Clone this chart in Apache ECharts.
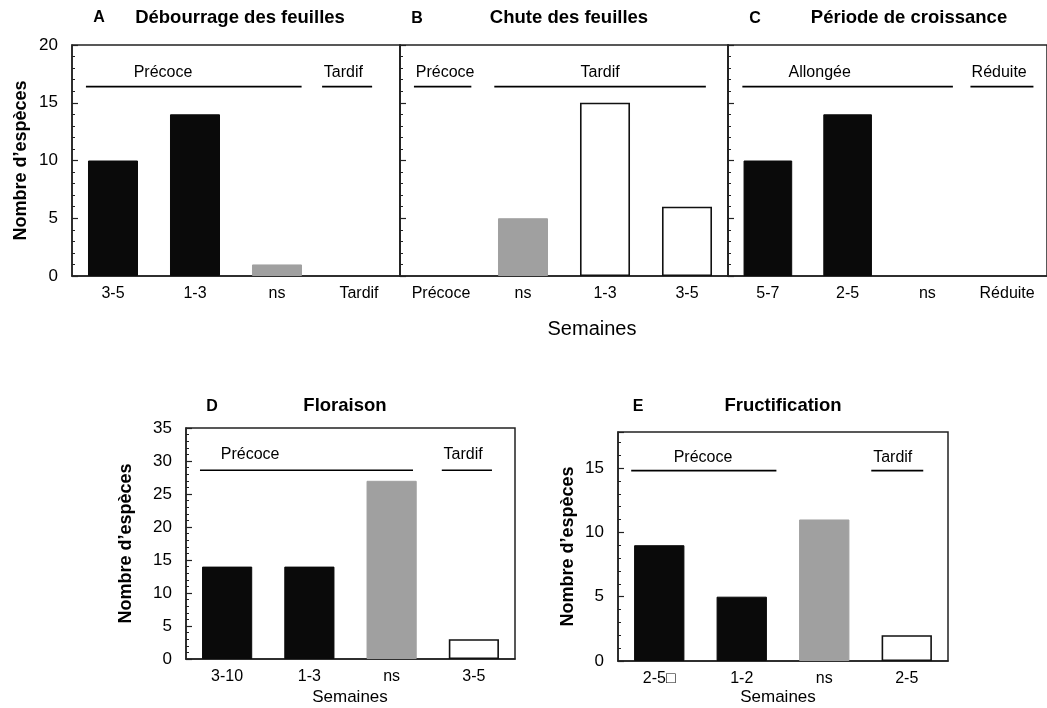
<!DOCTYPE html>
<html><head><meta charset="utf-8">
<script src="https://cdn.jsdelivr.net/npm/echarts@6/dist/echarts.min.js"></script>
<style>html,body{margin:0;padding:0;background:#fff}#c{width:1047px;height:708px}</style>
</head><body><div id="c"></div>
<script>
// ---- Data ----
const catsA = ['3-5', '1-3', 'ns', 'Tardif'];
const valsA = [10, 14, 1, 0];
const groupA = ['early', 'early', 'ns', 'late'];

const catsB = ['Précoce', 'ns', '1-3', '3-5'];
const valsB = [0, 5, 15, 6];
const groupB = ['early', 'ns', 'late', 'late'];

const catsC = ['5-7', '2-5', 'ns', 'Réduite'];
const valsC = [10, 14, 0, 0];
const groupC = ['early', 'early', 'ns', 'late'];

const catsD = ['3-10', '1-3', 'ns', '3-5'];
const valsD = [14, 14, 27, 3];
const groupD = ['early', 'early', 'ns', 'late'];

const catsE = ['2-5□', '1-2', 'ns', '2-5'];
const valsE = [9, 5, 11, 2];
const groupE = ['early', 'early', 'ns', 'late'];

const titles = ['Débourrage des feuilles', 'Chute des feuilles', 'Période de croissance', 'Floraison', 'Fructification'];
const letters = ['A', 'B', 'C', 'D', 'E'];
const yMax = [20, 20, 20, 35, 17.8];

// bracket annotations: [label, from, to, y, labelX, labelY] (category units / value units)
const bracketsA = [['Précoce', 0.17, 2.80, 16.4, 1.11, 17.6], ['Tardif', 3.05, 3.66, 16.4, 3.31, 17.6]];
const bracketsB = [['Précoce', 0.17, 0.87, 16.4, 0.55, 17.6], ['Tardif', 1.15, 3.73, 16.4, 2.44, 17.6]];
const bracketsC = [['Allongée', 0.18, 2.82, 16.4, 1.15, 17.6], ['Réduite', 3.04, 3.83, 16.4, 3.40, 17.6]];
const bracketsD = [['Précoce', 0.17, 2.76, 28.6, 0.78, 30.9], ['Tardif', 3.11, 3.72, 28.6, 3.37, 30.9]];
const bracketsE = [['Précoce', 0.16, 1.92, 14.8, 1.03, 15.8], ['Tardif', 3.07, 3.70, 14.8, 3.33, 15.8]];

// ---- Layout / style ----
const FONT = 'Liberation Sans';
const INK = '#000';
const grids = [
  {left: 72, top: 45, width: 328, height: 231},
  {left: 400, top: 45, width: 328, height: 231},
  {left: 728, top: 45, width: 328, height: 231},
  {left: 186, top: 428, width: 329, height: 231},
  {left: 618, top: 432, width: 330, height: 229}
];
const showYLabels = [true, false, false, true, true];
const yNameGap = [42, 0, 0, 51, 41];
const styleFor = {
  early: {color: '#0a0a0a', borderColor: '#0a0a0a', borderWidth: 1},
  ns: {color: '#a0a0a0', borderColor: '#a0a0a0', borderWidth: 1},
  late: {color: '#ffffff', borderColor: '#111', borderWidth: 1.6}
};

const panels = [
  [catsA, valsA, groupA, bracketsA],
  [catsB, valsB, groupB, bracketsB],
  [catsC, valsC, groupC, bracketsC],
  [catsD, valsD, groupD, bracketsD],
  [catsE, valsE, groupE, bracketsE]
];

const option = {
  animation: false,
  backgroundColor: '#fff',
  textStyle: {fontFamily: FONT},
  grid: grids.map(g => Object.assign({show: true, borderColor: '#222', borderWidth: 1.5, backgroundColor: 'transparent'}, g)),
  xAxis: [], yAxis: [], series: [], graphic: []
};

panels.forEach((p, i) => {
  const [cats, vals, grp, brs] = p;
  option.xAxis.push({
    type: 'category', gridIndex: i, data: cats,
    axisLine: {lineStyle: {color: '#222', width: 1.5}},
    axisTick: {inside: true, length: 6, alignWithLabel: false, lineStyle: {color: '#222', width: 1.5}},
    axisLabel: {fontSize: 16, color: INK, margin: 10, interval: 0, fontFamily: FONT}
  });
  option.xAxis.push({type: 'value', gridIndex: i, min: 0, max: 4, show: false});
  option.yAxis.push({
    type: 'value', gridIndex: i, min: 0, max: yMax[i], interval: 5,
    axisLine: {show: true, lineStyle: {color: '#222', width: 1.5}},
    axisTick: {show: true, inside: true, length: 6, lineStyle: {color: '#222', width: 1.2}},
    minorTick: {show: true, splitNumber: 5, length: 3, lineStyle: {color: '#222', width: 1}},
    splitLine: {show: false},
    axisLabel: {show: showYLabels[i], fontSize: 17, color: INK, margin: 14, fontFamily: FONT,
      formatter: v => (v % 5 === 0 ? String(v) : '')},
    name: showYLabels[i] ? 'Nombre d’espèces' : '',
    nameLocation: 'middle', nameGap: yNameGap[i],
    nameTextStyle: {fontSize: 18, fontWeight: 'bold', color: INK, fontFamily: FONT}
  });
  option.series.push({
    type: 'bar', xAxisIndex: 2 * i, yAxisIndex: i, barWidth: '61%', silent: true,
    data: vals.map((v, k) => ({value: v,
      itemStyle: v === 0 ? {color: 'transparent', borderWidth: 0} : styleFor[grp[k]]}))
  });
  brs.forEach(b => {
    option.series.push({
      type: 'line', xAxisIndex: 2 * i + 1, yAxisIndex: i, symbol: 'none', silent: true,
      lineStyle: {color: INK, width: 1.6},
      data: [[b[1], b[3]], [b[2], b[3]]]
    });
    option.series.push({
      type: 'scatter', xAxisIndex: 2 * i + 1, yAxisIndex: i, symbolSize: 1, silent: true,
      itemStyle: {color: 'transparent'},
      label: {show: true, position: 'inside', formatter: b[0], fontSize: 16, color: INK,
        fontFamily: FONT, textBorderWidth: 0, textBorderColor: 'transparent', opacity: 1},
      data: [[b[4], b[5]]]
    });
  });
});

const letterPos = [[99, 18], [417, 19], [755, 19], [212, 407], [638, 407]];
const titlePos = [[240, 18], [569, 18], [909, 18], [345, 406], [783, 406]];
letters.forEach((l, i) => {
  option.graphic.push({type: 'text', x: letterPos[i][0], y: letterPos[i][1],
    style: {text: l, font: 'bold 16px "Liberation Sans"', fill: INK, textAlign: 'center', textVerticalAlign: 'middle'}});
  option.graphic.push({type: 'text', x: titlePos[i][0], y: titlePos[i][1],
    style: {text: titles[i], font: 'bold 18.5px "Liberation Sans"', fill: INK, textAlign: 'center', textVerticalAlign: 'middle'}});
});
[[592, 329, 20], [350, 697, 17], [778, 697, 17]].forEach(s => {
  option.graphic.push({type: 'text', x: s[0], y: s[1],
    style: {text: 'Semaines', font: s[2] + 'px "Liberation Sans"', fill: INK, textAlign: 'center', textVerticalAlign: 'middle'}});
});

const chart = echarts.init(document.getElementById('c'));
chart.setOption(option);
</script>
</body></html>
